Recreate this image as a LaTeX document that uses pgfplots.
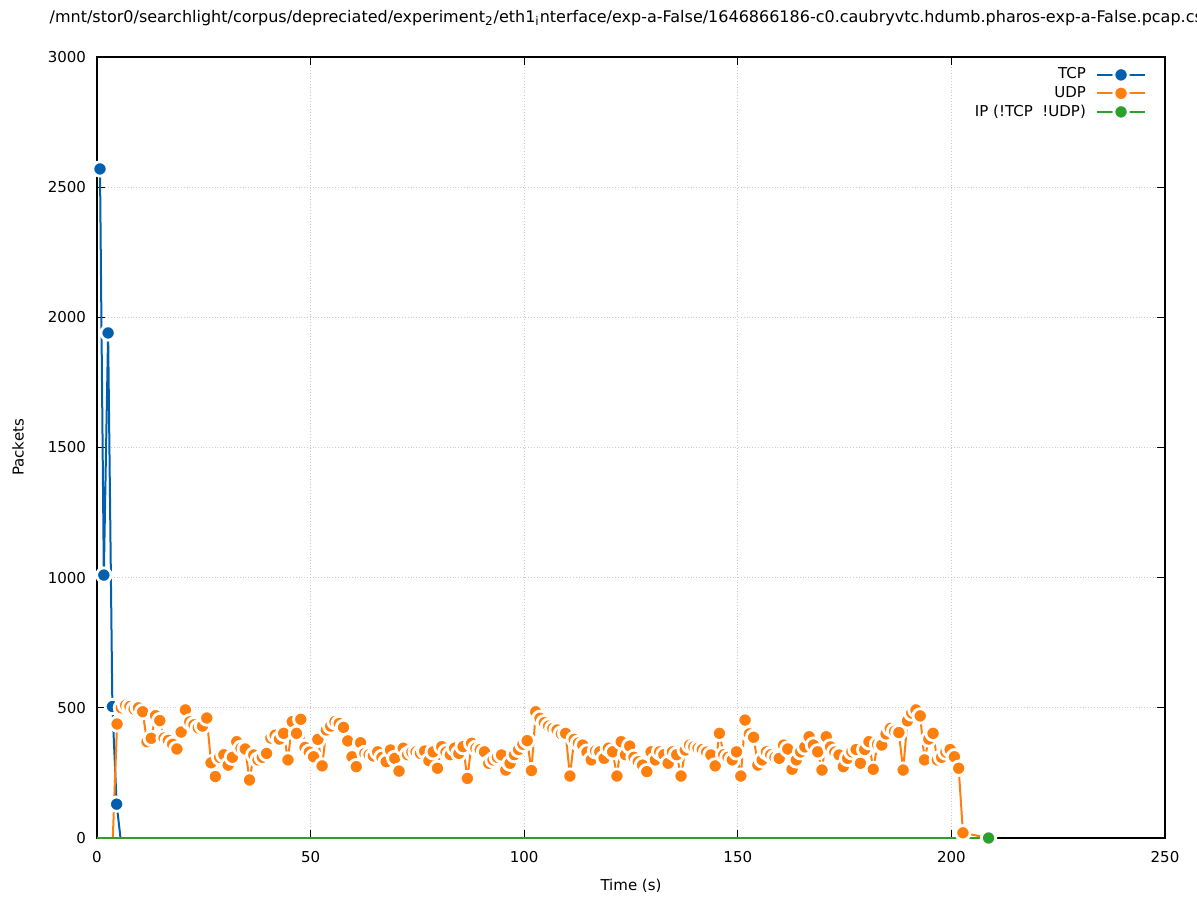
\documentclass[border=0pt]{standalone}
\usepackage{pgfplots}
\pgfplotsset{compat=1.18}
\usepackage{fontspec}
\setmainfont{DejaVu Sans}
\definecolor{tcpblue}{HTML}{0060AD}
\definecolor{udporange}{HTML}{FF7F0E}
\definecolor{ipgreen}{HTML}{2CA02C}
\newcommand\fsz{\fontsize{7.5}{9}\selectfont}
\begin{document}
\begin{tikzpicture}
\path[use as bounding box] (-48.5pt,-31pt) rectangle (550pt,419pt);
\begin{axis}[
  at={(0,0)}, anchor=south west,
  scale only axis, width=534pt, height=390.5pt,
  xmin=0, xmax=250, ymin=0, ymax=3000,
  xtick={0,50,...,250}, ytick={0,500,...,3000},
  /pgf/number format/assume math mode=true,
  /pgf/number format/1000 sep={},
  tick label style={font=\fsz},
  xticklabel style={yshift=-3pt},
  yticklabel style={xshift=-2pt},
  major tick length=4pt,
  tick style={black, line width=0.5pt},
  axis line style={line width=0.6pt},
  grid=major, grid style={densely dotted, gray!40, line width=0.4pt},
  xlabel={Time (s)}, ylabel={Packets},
  label style={font=\fsz},
  xlabel style={at={(axis description cs:0.5,-0.0615)}, anchor=center},
  ylabel style={at={(axis description cs:-0.074,0.5)}, anchor=center},
  title={/mnt/stor0/searchlight/corpus/depreciated/experiment\textsubscript{2}/eth1\textsubscript{i}nterface/exp-a-False/1646866186-c0.caubryvtc.hdumb.pharos-exp-a-False.pcap.csv},
  title style={font=\fontsize{8}{9.6}\selectfont, at={(axis description cs:0.5,1.0346)}, anchor=center},
  legend plot pos=right,
  legend cell align=right,
  legend style={at={(0.9845,0.992)}, anchor=north east, draw=none, fill=none,
    font=\fsz, row sep=0pt, inner sep=1pt, nodes={inner sep=1.1pt}},
  legend image code/.code={\path (0pt,0pt);
    \draw[#1, mark indices={2}]
    plot coordinates {(4pt,0pt) (16pt,0pt) (28pt,0pt)};},
  every axis plot/.append style={line width=1pt},
]
% TCP
\addplot[tcpblue, mark=*, mark size=3.6pt, mark indices={1,...,5},
  mark options={draw=white, fill=tcpblue, line width=1.4pt, solid}]
  coordinates {
  (0.7,2570) (1.6,1010) (2.6,1940) (3.6,505) (4.6,130) (5.5,0)
};
\addlegendentry{TCP}
% UDP
\addplot[udporange, mark=*, mark size=3.6pt, mark indices={2,...,200},
  mark options={draw=white, fill=udporange, line width=1.4pt, solid}]
  table {
x y
3.7 0
4.7 438
5.7 500
6.7 510
7.7 505
8.7 495
9.7 500
10.7 485
11.7 370
12.7 383
13.7 470
14.7 451
15.7 384
16.7 375
17.7 360
18.7 342
19.7 407
20.7 492
21.7 446
22.7 435
23.7 423
24.7 430
25.7 461
26.7 289
27.7 236
28.7 310
29.7 320
30.7 280
31.7 310
32.7 370
33.7 345
34.7 342
35.7 223
36.7 319
37.7 300
38.7 310
39.7 325
40.7 384
41.7 395
42.7 380
43.7 402
44.7 300
45.7 447
46.7 402
47.7 456
48.7 348
49.7 330
50.7 312
51.7 379
52.7 277
53.7 415
54.7 430
55.7 447
56.7 440
57.7 425
58.7 373
59.7 312
60.7 274
61.7 366
62.7 325
63.7 320
64.7 315
65.7 331
66.7 310
67.7 293
68.7 338
69.7 306
70.7 257
71.7 345
72.7 320
73.7 330
74.7 331
75.7 325
76.7 334
77.7 297
78.7 331
79.7 268
80.7 351
81.7 330
82.7 320
83.7 345
84.7 325
85.7 351
86.7 229
87.7 364
88.7 345
89.7 340
90.7 331
91.7 287
92.7 300
93.7 310
94.7 319
95.7 261
96.7 287
97.7 320
98.7 340
99.7 360
100.7 374
101.7 259
102.7 485
103.7 460
104.7 443
105.7 430
106.7 421
107.7 415
108.7 400
109.7 402
110.7 238
111.7 379
112.7 365
113.7 357
114.7 330
115.7 300
116.7 335
117.7 331
118.7 306
119.7 345
120.7 331
121.7 238
122.7 370
123.7 320
124.7 353
125.7 310
126.7 293
127.7 280
128.7 255
129.7 331
130.7 300
131.7 331
132.7 320
133.7 287
134.7 331
135.7 320
136.7 238
137.7 338
138.7 357
139.7 350
140.7 345
141.7 340
142.7 330
143.7 319
144.7 277
145.7 402
146.7 320
147.7 310
148.7 300
149.7 331
150.7 238
151.7 453
152.7 400
153.7 387
154.7 280
155.7 300
156.7 331
157.7 320
158.7 310
159.7 306
160.7 357
161.7 342
162.7 264
163.7 300
164.7 331
165.7 350
166.7 389
167.7 357
168.7 331
169.7 261
170.7 389
171.7 350
172.7 330
173.7 319
174.7 274
175.7 306
176.7 331
177.7 340
178.7 287
179.7 340
180.7 370
181.7 264
182.7 360
183.7 357
184.7 400
185.7 421
186.7 410
187.7 405
188.7 261
189.7 450
190.7 480
191.7 492
192.7 469
193.7 300
194.7 380
195.7 402
196.7 300
197.7 310
198.7 330
199.7 340
200.7 312
201.7 268
202.7 20
208.7 0
};
\addlegendentry{UDP}
% IP (not TCP, not UDP)
\addplot[ipgreen, mark=*, mark size=3.6pt, mark indices={2},
  mark options={draw=white, fill=ipgreen, line width=1.4pt, solid}]
  coordinates {(0,0) (208.7,0)};
\addlegendentry{IP (!TCP\ \ !UDP)}
\end{axis}
\end{tikzpicture}
\end{document}
